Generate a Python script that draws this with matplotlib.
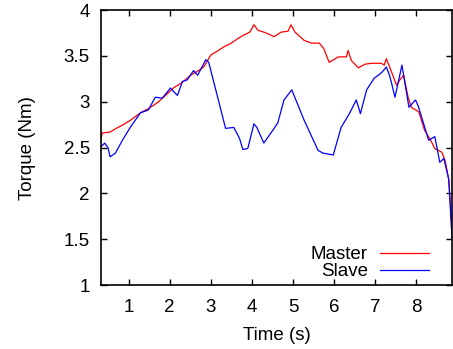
import matplotlib
matplotlib.use("Agg")
import matplotlib.pyplot as plt

plt.rcParams['font.family'] = ['Liberation Sans', 'DejaVu Sans']

master_t = [0.33, 0.36, 0.55, 0.70, 0.87, 1.05, 1.29, 1.50, 1.70, 1.90, 2.09, 2.30,
            2.51, 2.70, 2.83, 3.00, 3.15, 3.32, 3.50, 3.66, 3.81, 3.95, 4.05, 4.15,
            4.29, 4.40, 4.54, 4.71, 4.88, 4.95, 5.05, 5.27, 5.45, 5.64, 5.75, 5.88,
            6.10, 6.30, 6.34, 6.42, 6.59, 6.75, 6.91, 7.15, 7.22, 7.27, 7.35, 7.52,
            7.60, 7.69, 7.80, 7.88, 8.06, 8.20, 8.35, 8.45, 8.62, 8.70, 8.79, 8.87]
master_y = [2.60, 2.66, 2.67, 2.71, 2.75, 2.80, 2.88, 2.93, 2.99, 3.07, 3.15, 3.21,
            3.29, 3.34, 3.38, 3.51, 3.55, 3.60, 3.64, 3.69, 3.73, 3.76, 3.84, 3.78,
            3.76, 3.74, 3.71, 3.76, 3.77, 3.84, 3.76, 3.67, 3.64, 3.64, 3.58, 3.43,
            3.49, 3.49, 3.56, 3.45, 3.37, 3.41, 3.42, 3.42, 3.40, 3.47, 3.38, 3.18,
            3.24, 3.29, 3.05, 2.94, 2.89, 2.69, 2.58, 2.49, 2.45, 2.36, 2.15, 1.55]

slave_t = [0.33, 0.42, 0.50, 0.55, 0.68, 0.85, 1.04, 1.29, 1.48, 1.65, 1.82, 2.02,
           2.12, 2.19, 2.31, 2.43, 2.58, 2.68, 2.88, 2.95, 3.15, 3.36, 3.56, 3.70,
           3.78, 3.90, 4.05, 4.12, 4.29, 4.51, 4.63, 4.78, 4.97, 5.27, 5.61, 5.73,
           5.98, 6.17, 6.37, 6.54, 6.64, 6.79, 6.98, 7.08, 7.18, 7.27, 7.34, 7.40,
           7.48, 7.65, 7.82, 7.98, 8.05, 8.30, 8.45, 8.57, 8.67, 8.79, 8.87]
slave_y = [2.51, 2.55, 2.50, 2.40, 2.44, 2.58, 2.72, 2.88, 2.91, 3.05, 3.04, 3.15,
           3.10, 3.07, 3.22, 3.24, 3.34, 3.29, 3.46, 3.43, 3.08, 2.71, 2.72, 2.60,
           2.48, 2.49, 2.76, 2.72, 2.55, 2.69, 2.77, 3.02, 3.13, 2.80, 2.47, 2.44,
           2.42, 2.72, 2.87, 3.02, 2.87, 3.13, 3.26, 3.29, 3.33, 3.38, 3.30, 3.20,
           3.05, 3.40, 2.94, 3.02, 2.95, 2.58, 2.62, 2.34, 2.38, 2.15, 1.50]

fs = 13.5
fig = plt.figure(figsize=(4.53, 3.49), dpi=100)
ax = fig.add_axes([0.223, 0.183, 0.775, 0.788])
ax.plot(master_t, master_y, color='#ff0000', lw=0.9, label='Master')
ax.plot(slave_t, slave_y, color='#0000ff', lw=0.9, label='Slave')
ax.set_xlim(0.33, 8.87)
ax.set_ylim(1, 4)
ax.set_xticks([1, 2, 3, 4, 5, 6, 7, 8])
ax.set_yticks([1, 1.5, 2, 2.5, 3, 3.5, 4])
ax.set_yticklabels(['1', '1.5', '2', '2.5', '3', '3.5', '4'])
ax.tick_params(direction='in', top=True, right=True, length=4, width=1,
               labelsize=fs)
ax.tick_params(axis='x', pad=10)
ax.tick_params(axis='y', pad=8)
for s in ax.spines.values():
    s.set_linewidth(1.2)
ax.set_xlabel('Time (s)', fontsize=fs, labelpad=8)
ax.set_ylabel('Torque (Nm)', fontsize=fs, labelpad=20)
ax.legend(loc='lower right', frameon=False, markerfirst=False, fontsize=fs,
          handlelength=2.6, handletextpad=0.65, labelspacing=0.0,
          borderaxespad=0.0, bbox_to_anchor=(0.955, -0.01))
fig.savefig('out.png', dpi=100)
